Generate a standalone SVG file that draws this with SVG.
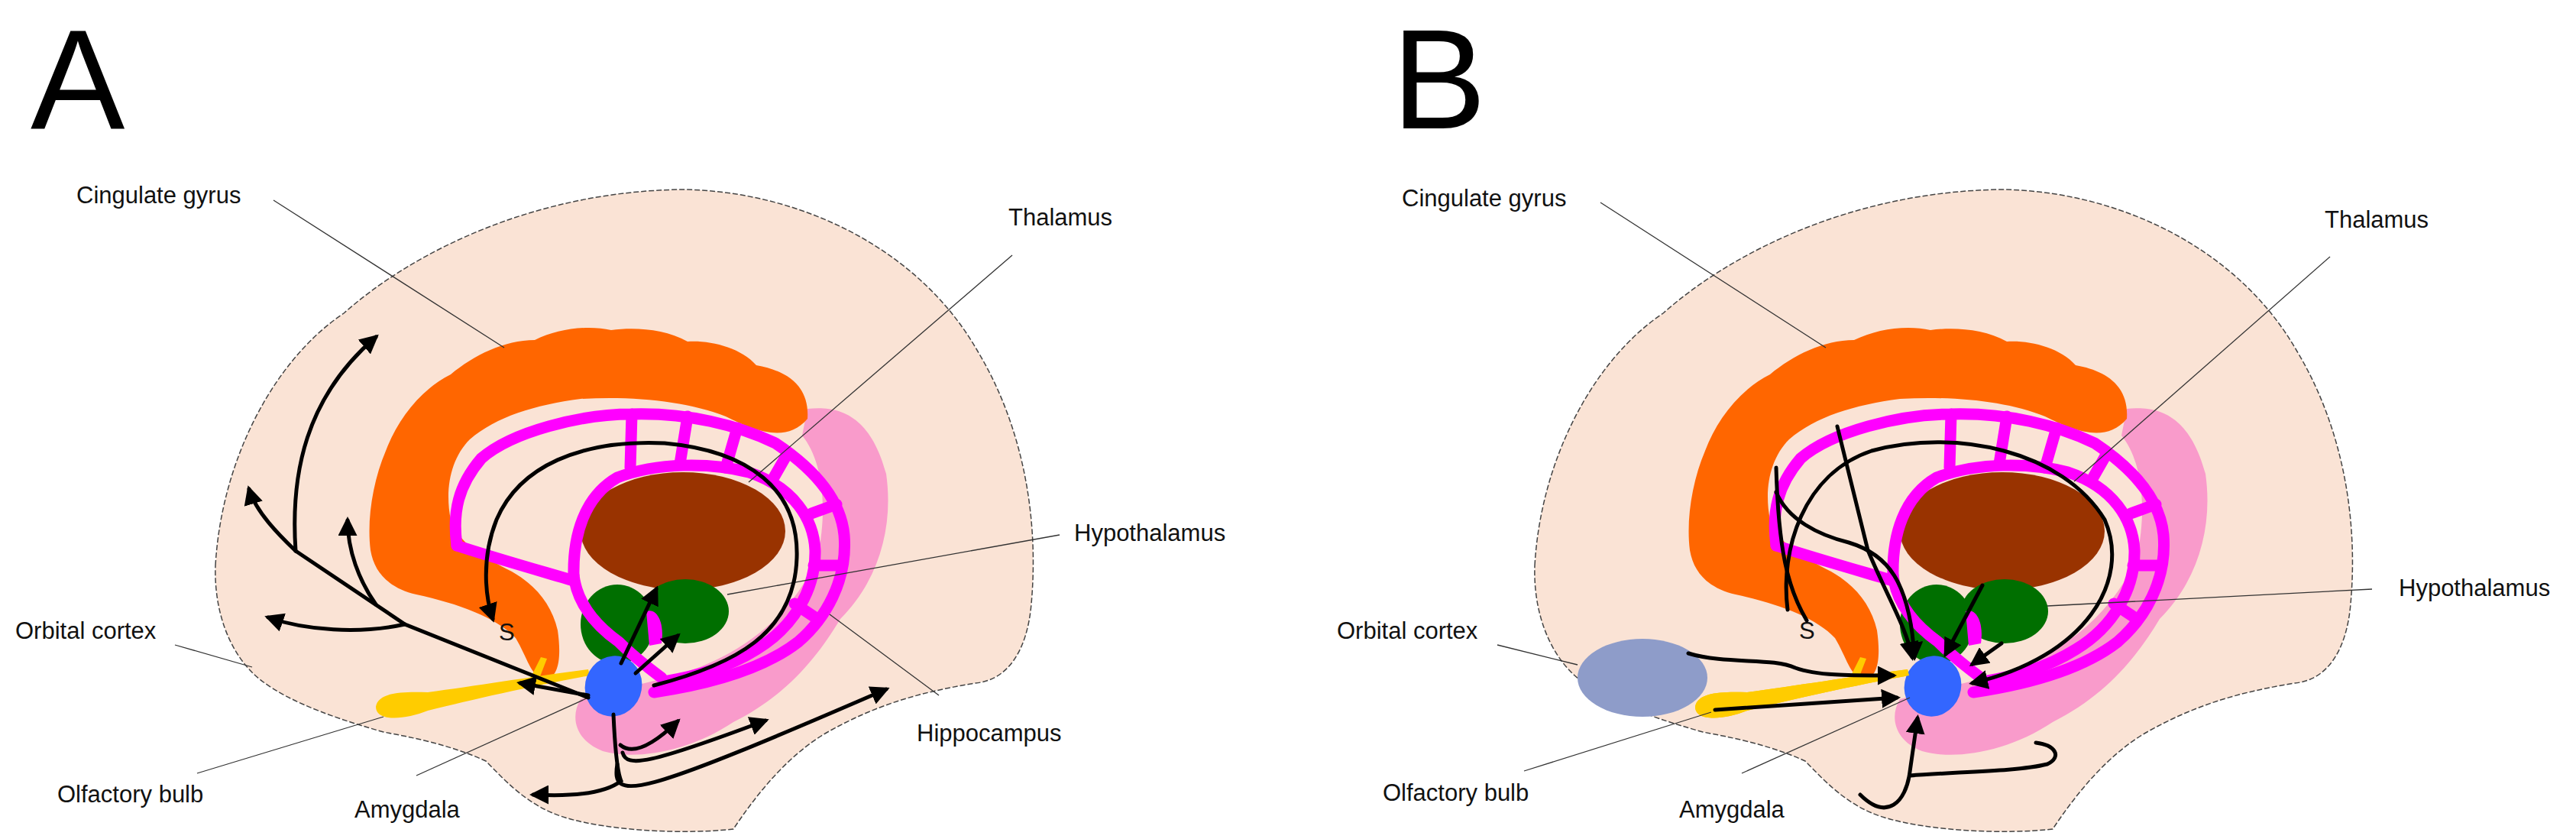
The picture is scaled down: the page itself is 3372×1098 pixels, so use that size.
<svg xmlns="http://www.w3.org/2000/svg" xmlns:xlink="http://www.w3.org/1999/xlink" width="3372" height="1098" viewBox="0 0 3372 1098">
<style>
.lbl{font-family:"Liberation Sans",Arial,sans-serif;font-size:31px;fill:#111}
.big{font-family:"Liberation Sans",Arial,sans-serif;font-size:185px;fill:#000}
.lead{stroke:#333;stroke-width:1.3;fill:none}
.arr{stroke:#000;stroke-width:5;fill:none;stroke-linecap:round;marker-end:url(#ah)}
.ln{stroke:#000;stroke-width:5;fill:none;stroke-linecap:round}
.mag{stroke:#FF00FF;stroke-width:15;fill:none;stroke-linecap:round;stroke-linejoin:round}
</style>
<defs>
<marker id="ah" viewBox="0 0 10 10" refX="8" refY="5" markerUnits="strokeWidth" markerWidth="5" markerHeight="5" orient="auto">
<path d="M0,0 L10,5 L0,10 z" fill="#000"/>
</marker>
<g id="anatomy">
<path d="M282,740 C290,600 360,470 450,410 C540,330 700,250 894,248 C1040,250 1200,320 1280,460 C1340,560 1360,680 1350,790 C1345,850 1320,890 1277,894 C1210,905 1150,920 1080,960 C1030,990 990,1040 960,1085 C900,1092 800,1088 740,1070 C690,1055 660,1020 636,996 C590,975 540,965 502,958 C420,935 360,910 330,880 C300,850 280,800 282,740 Z" fill="#FAE3D5" stroke="#444" stroke-width="1.5" stroke-dasharray="7 3"/>
<path d="M1057,535 C1100,530 1140,545 1160,620 C1170,690 1150,760 1100,810 C1070,860 1030,910 960,945 C900,985 830,995 789,983 C755,970 745,940 760,915 L860,890 C950,870 1030,820 1070,730 C1085,660 1075,600 1050,570 Z" fill="#F99BCB"/>
<path d="M1057,548 C1060,505 1030,485 990,478 C970,455 930,445 900,447 C870,430 830,428 800,432 C770,425 730,430 700,445 C660,445 620,465 590,490 C550,510 520,550 505,590 C488,630 480,680 485,720 C490,750 510,770 545,778 C600,790 650,808 675,835 C690,860 695,885 712,890 C732,888 735,860 730,825 C722,790 700,765 670,748 C630,728 600,710 590,680 C582,640 590,600 615,575 C650,545 700,530 760,522 C830,518 900,525 950,545 C990,565 1030,580 1057,548 Z" fill="#FF6600"/>
<ellipse cx="894" cy="695" rx="134" ry="77" fill="#993300"/>
<ellipse cx="808" cy="817" rx="48" ry="52" fill="#006F00"/>
<ellipse cx="897" cy="800" rx="57" ry="42" fill="#006F00"/>
<path class="mag" d="M598,714 C592,670 600,635 630,600 C670,565 760,542 827,542 C900,540 965,556 1015,580 C1060,610 1100,650 1105,700 C1110,760 1080,810 1045,840 C1000,875 930,895 856,906"/>
<path class="mag" d="M751,753 C750,700 765,650 808,625 C860,605 930,605 980,618 C1040,638 1065,680 1067,720 C1068,770 1040,820 990,850 C950,875 910,885 870,892"/>
<path class="mag" d="M751,753 C755,785 775,815 810,840 C830,860 850,875 866,887"/>
<path class="mag" d="M598,714 C640,728 700,745 751,760"/>
<path class="mag" d="M827,542 L825,612 M900,545 L890,607 M965,560 L950,612 M1030,595 L1010,630 M1095,660 L1062,672 M1100,740 L1065,740 M1070,810 L1040,790"/>
<path d="M846,800 C860,795 870,815 866,842 L850,845 Z" fill="#FF00FF"/>
<path d="M492,925 C495,905 530,905 560,906 C620,898 700,885 770,876 L772,884 C700,897 620,915 560,930 C530,942 492,945 492,925 Z" fill="#FFCC00"/>
<path d="M690,896 L708,860 L716,862 L702,898 Z" fill="#FFCC00"/>
<ellipse cx="803" cy="898" rx="37" ry="40" transform="rotate(20 803 898)" fill="#3366FF"/>
</g>
</defs>

<g id="panelA">
<text class="big" x="40" y="168">A</text>
<use xlink:href="#anatomy"/>
<text class="lbl" x="653" y="838">S</text>
<g id="labelsA">
<text class="lbl" x="100" y="266">Cingulate gyrus</text>
<path class="lead" d="M358,262 L660,455"/>
<text class="lbl" x="1320" y="295">Thalamus</text>
<path class="lead" d="M1325,334 L980,631"/>
<text class="lbl" x="1406" y="708">Hypothalamus</text>
<path class="lead" d="M1387,700 L952,778"/>
<text class="lbl" x="20" y="836">Orbital cortex</text>
<path class="lead" d="M229,844 L330,873"/>
<text class="lbl" x="75" y="1050">Olfactory bulb</text>
<path class="lead" d="M258,1012 L502,938"/>
<text class="lbl" x="464" y="1070">Amygdala</text>
<path class="lead" d="M545,1015 L770,913"/>
<text class="lbl" x="1200" y="970">Hippocampus</text>
<path class="lead" d="M1229,910 L1086,804"/>
</g>
<g id="connectorsA">
<path class="ln" d="M770,913 L530,817 L387,721"/>
<path class="arr" d="M387,721 C380,620 400,520 492,441"/>
<path class="arr" d="M387,721 C365,700 335,670 326,640"/>
<path class="arr" d="M492,791 C470,760 455,720 455,681"/>
<path class="arr" d="M530,817 C470,830 400,825 351,808"/>
<path class="arr" d="M856,897 C960,870 1040,830 1043,730 C1046,640 980,590 870,580 C760,575 680,610 650,680 C630,730 635,780 645,810"/>
<path class="arr" d="M813,868 L859,771"/>
<path class="arr" d="M832,881 L887,832"/>
<path class="arr" d="M770,910 L681,894"/>
<path class="ln" d="M803,935 C805,980 808,1010 813,1022 C790,1040 740,1042 700,1040"/>
<path class="arr" d="M700,1040 L698,1040"/>
<path class="arr" d="M812,975 C830,990 860,970 887,944"/>
<path class="arr" d="M815,985 C820,1005 850,1000 1002,943"/>
<path class="arr" d="M808,1000 C800,1050 830,1045 1160,902"/>
</g>
</g>

<g id="panelB">
<text class="big" x="1822" y="168">B</text>
<use xlink:href="#anatomy" transform="translate(1727,0)"/>
<ellipse id="orbitalB" cx="2150" cy="887" rx="85" ry="51" fill="#8E9CC9"/>
<path d="M2219,925 C2222,905 2257,905 2287,906 C2347,898 2427,885 2497,876 L2499,884 C2427,897 2347,915 2287,930 C2257,942 2219,945 2219,925 Z" fill="#FFCC00"/>
<text class="lbl" x="2355" y="836">S</text>
<g id="labelsB">
<text class="lbl" x="1835" y="270">Cingulate gyrus</text>
<path class="lead" d="M2095,265 L2390,455"/>
<text class="lbl" x="3043" y="298">Thalamus</text>
<path class="lead" d="M3050,336 L2715,630"/>
<text class="lbl" x="3140" y="780">Hypothalamus</text>
<path class="lead" d="M3105,771 L2680,793"/>
<text class="lbl" x="1750" y="836">Orbital cortex</text>
<path class="lead" d="M1960,844 L2065,870"/>
<text class="lbl" x="1810" y="1048">Olfactory bulb</text>
<path class="lead" d="M1995,1009 L2240,932"/>
<text class="lbl" x="2198" y="1070">Amygdala</text>
<path class="lead" d="M2280,1012 L2500,913"/>
</g>
<g id="connectorsB">
<path class="arr" d="M2210,855 C2260,870 2320,860 2350,874 C2380,885 2430,884 2478,884"/>
<path class="arr" d="M2245,929 L2483,913"/>
<path class="ln" d="M2365,812 C2340,770 2328,720 2325,612"/>
<path class="arr" d="M2325,644 C2340,680 2380,700 2420,710 C2470,725 2500,760 2506,860"/>
<path class="arr" d="M2405,558 C2420,620 2435,680 2445,720 C2470,780 2495,820 2503,860"/>
<path class="arr" d="M2340,798 C2330,720 2360,620 2450,590 C2560,560 2700,590 2755,680 C2790,760 2730,860 2582,894"/>
<path class="arr" d="M2595,766 L2547,856"/>
<path class="arr" d="M2620,842 L2582,869"/>
<path class="ln" d="M2500,1015 C2560,1010 2640,1010 2680,1000 C2700,990 2690,975 2665,972"/>
<path class="arr" d="M2435,1040 C2470,1075 2495,1050 2500,1010 L2510,940"/>
</g>
</g>
</svg>
